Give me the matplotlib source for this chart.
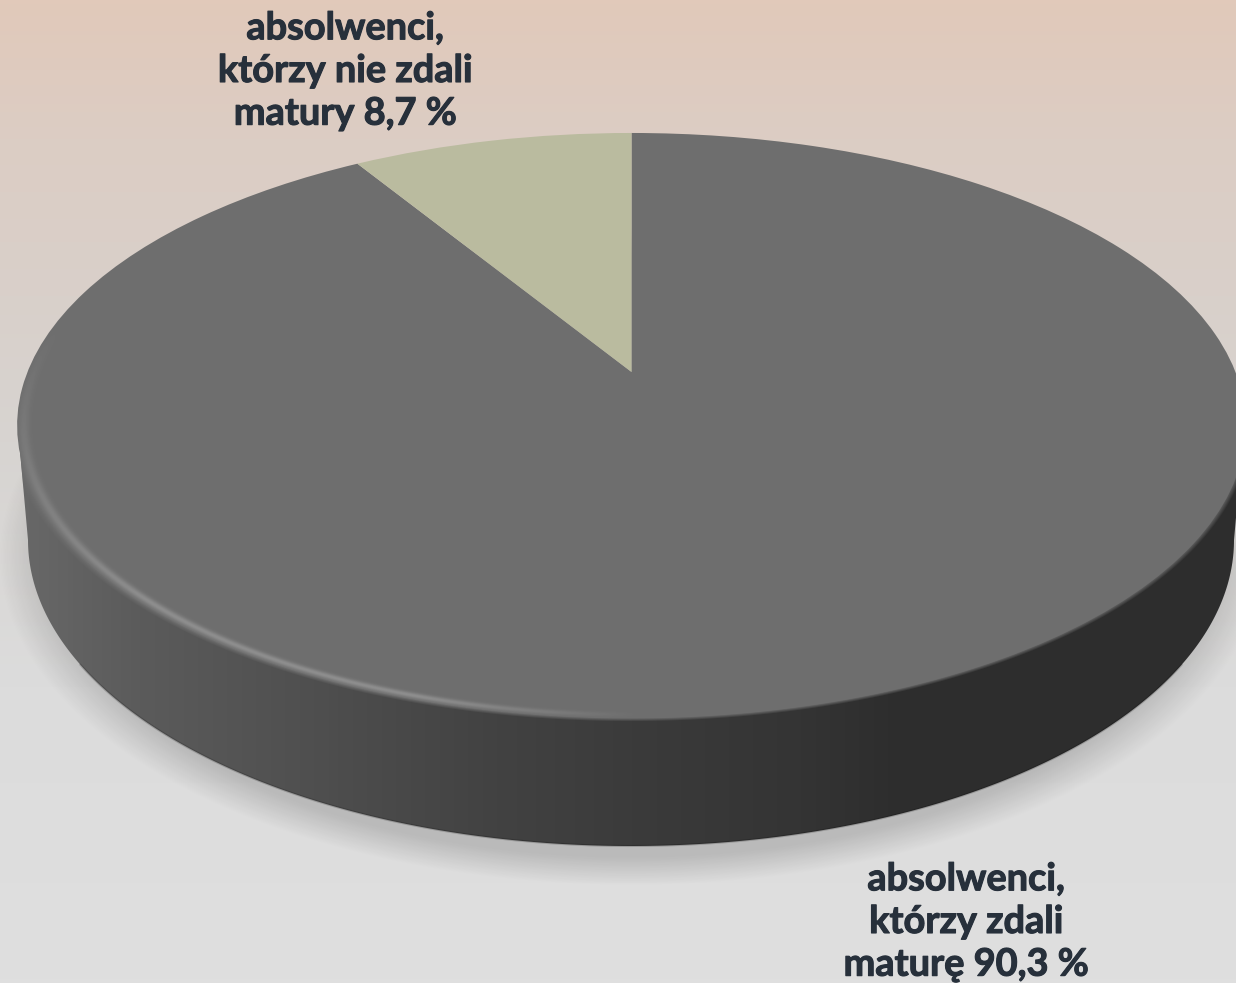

# Matura results as a tilted 3D looking pie chart

import numpy as np
import matplotlib
matplotlib.use('Agg')
import matplotlib.pyplot as plt
import matplotlib.patheffects as pe
from matplotlib.colors import LinearSegmentedColormap
from matplotlib.patches import Polygon
from matplotlib.transforms import Transform

names = ['absolwenci,\nkt\u00f3rzy zdali\nmatur\u0119', 'absolwenci,\nkt\u00f3rzy nie zdali\nmatury']
values = [90.3, 8.7]
colours = ['#6e6e6e', '#babb9f']

W, H = 1236, 983


class Tilt(Transform):
    # maps the flat unit pie to pixel positions, with perspective
    input_dims = 2
    output_dims = 2
    is_separable = False
    has_inverse = False
    c = 0.1829
    a = -214.7
    b = 372.0
    cx = 631.5
    R = 604.0

    def transform_non_affine(self, xy):
        xy = np.asarray(xy)
        w = 1 + self.c * xy[:, 1]
        return np.column_stack((self.cx + self.R * xy[:, 0] / w,
                                (self.a * xy[:, 1] + self.b) / w))


fig = plt.figure(figsize=(W / 100, H / 100), dpi=100)
ax = fig.add_axes([0, 0, 1, 1])

wedges, _ = ax.pie(values, colors=colours, startangle=90, counterclock=False)
ax.set_aspect('auto')
ax.set_xlim(0, W)
ax.set_ylim(H, 0)
ax.axis('off')

xx, yy = np.meshgrid(np.arange(W) + 0.5, np.arange(H) + 0.5)
extent = (0, W, H, 0)

# background
bg = LinearSegmentedColormap.from_list('bg', [(0, '#e1c9ba'), (0.14, '#dccdc4'), (0.3, '#d9d0ca'),
                                              (0.45, '#d7d4d1'), (0.7, '#dcdcdc'), (1, '#dfdfdf')])
ax.imshow(np.linspace(0, 1, H)[:, None], cmap=bg, extent=extent, aspect='auto', zorder=0)

# soft shadow under the pie
d = np.hypot((xx - 631) / 614, (yy - 556) / 320)
alpha = np.clip((1.03 - d) / 0.09, 0, 1) * 0.16
shadow = np.zeros((H, W, 4))
shadow[..., 3] = alpha
ax.imshow(shadow, extent=extent, aspect='auto', zorder=1)

# side wall, lower half of the bottom ellipse joined to the top face
t = np.linspace(0, np.pi, 300)
rim = np.column_stack((631 + 603 * np.cos(t), 540 + 306 * np.sin(t)))
wall = np.vstack((rim, [[19, 440]], [[1243, 440]]))
side = LinearSegmentedColormap.from_list('side', [(0, '#6a6a6a'), (0.11, '#5b5b5b'), (0.24, '#505050'),
                                                  (0.4, '#424242'), (0.51, '#3b3b3b'), (0.65, '#343434'),
                                                  (0.73, '#2d2d2d'), (1, '#2d2d2d')])
im = ax.imshow(np.linspace(0, 1, W)[None, :], cmap=side, extent=extent, aspect='auto', zorder=2)
patch = Polygon(wall, closed=True, transform=ax.transData, facecolor='none', edgecolor='none')
ax.add_patch(patch)
im.set_clip_path(patch)
ax.plot(rim[40:260, 0], rim[40:260, 1], color='black', lw=1.5, alpha=0.18, zorder=2)

# pie top face
for w in wedges:
    w.set_transform(Tilt() + ax.transData)
    w.set_zorder(3)
    w.set_clip_on(False)

# soft edge and highlight round the front of the top face
d = np.hypot((xx - 630) / 613.5, (yy - 425.5) / 292.5)
phi = np.degrees(np.arctan2(yy - 425.5, xx - 630)) % 360
soft = np.zeros((H, W, 4))
soft[..., :3] = 110 / 255
soft[..., 3] = np.clip((1.012 - d) / 0.012, 0, 1) * (d >= 0.995) * (yy > 445)
soft_im = ax.imshow(soft, extent=extent, aspect='auto', zorder=4)
soft_im.set_clip_path(patch)
front = np.clip((phi - 88) / 40, 0, 1) * np.clip((190 - phi) / 30, 0, 1)
glow = np.zeros((H, W, 4))
glow[..., :3] = 1
glow[..., 3] = 0.22 * np.exp(-((d - 0.988) / 0.009) ** 2) * front
ax.imshow(glow, extent=extent, aspect='auto', zorder=5)

ax.set_xlim(0, W)
ax.set_ylim(H, 0)

# data labels
text_style = dict(ha='center', va='center', color='#27303b', fontsize=27.3, fontweight='bold',
                  family='Lato', linespacing=1.31, zorder=6,
                  path_effects=[pe.withStroke(linewidth=0.8, foreground='#27303b')])
ax.text(345, 71, names[1] + ' ' + str(values[1]).replace('.', ',') + ' %', **text_style)
ax.text(966, 922, names[0] + ' ' + str(values[0]).replace('.', ',') + ' %', **text_style)

fig.savefig('out.png', dpi=100)
